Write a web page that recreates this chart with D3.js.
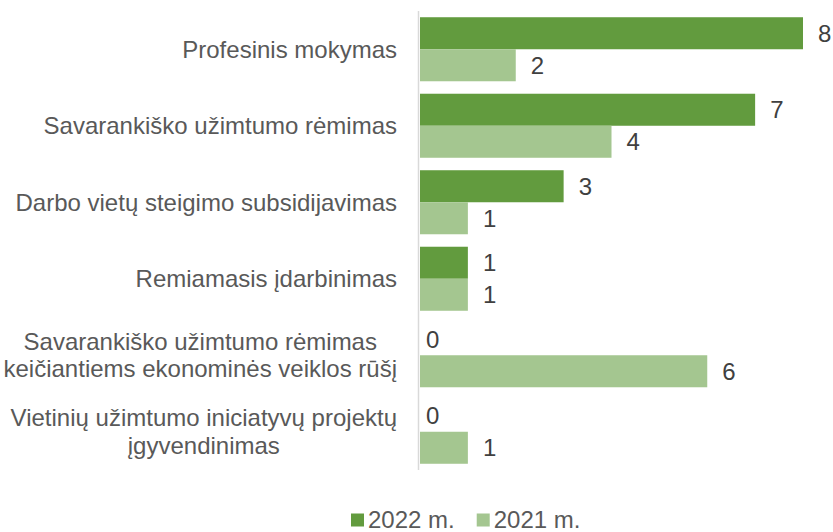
<!DOCTYPE html>
<html>
<head>
<meta charset="utf-8">
<script src="https://cdn.jsdelivr.net/npm/d3@7"></script>
<style>
  html, body { margin: 0; padding: 0; background: #fff; }
  svg { display: block; font-family: "Liberation Sans", Arial, sans-serif; }
</style>
</head>
<body>
<div id="chart"></div>
<script>
// category labels (already broken into lines as in the picture)
const categories = [
  ["Profesinis mokymas"],
  ["Savarankiško užimtumo rėmimas"],
  ["Darbo vietų steigimo subsidijavimas"],
  ["Remiamasis įdarbinimas"],
  ["Savarankiško užimtumo rėmimas", "keičiantiems ekonominės veiklos rūšį"],
  ["Vietinių užimtumo iniciatyvų projektų", "įgyvendinimas"],
];
const values2022 = [8, 7, 3, 1, 0, 0];
const values2021 = [2, 4, 1, 1, 6, 1];
const seriesNames = ["2022 m.", "2021 m."];
const colors = ["#629b3e", "#a4c690"];

const width = 833, height = 532;
const fontSize = 24;

const svg = d3
  .select("#chart")
  .append("svg")
  .attr("width", width)
  .attr("height", height);

const x = d3.scaleLinear().domain([0, 8]).range([420, 803]);

const y = d3
  .scaleBand()
  .domain(d3.range(categories.length))
  .range([11, 470])
  .paddingInner(0.163)
  .paddingOuter(0.0815);

const sub = d3
  .scaleBand()
  .domain([0, 1])
  .range([0, y.bandwidth()]);

const series = [values2022, values2021];

// bars
series.forEach((vals, s) => {
  svg
    .append("g")
    .selectAll("rect")
    .data(vals)
    .join("rect")
    .attr("x", x(0))
    .attr("y", (d, i) => y(i) + sub(s))
    .attr("width", (d) => x(d) - x(0))
    .attr("height", sub.bandwidth())
    .attr("fill", colors[s]);

  // value labels
  svg
    .append("g")
    .selectAll("text")
    .data(vals)
    .join("text")
    .attr("x", (d) => (d > 0 ? x(d) + 15 : x(0) + 6))
    .attr("y", (d, i) => y(i) + sub(s) + sub.bandwidth() / 2)
    .attr("dy", "0.35em")
    .attr("font-size", fontSize)
    .attr("fill", "#404040")
    .text((d) => d);
});

// vertical axis line
svg
  .append("line")
  .attr("x1", x(0) - 1.5)
  .attr("x2", x(0) - 1.5)
  .attr("y1", y.range()[0])
  .attr("y2", y.range()[1])
  .attr("stroke", "#d9d9d9")
  .attr("stroke-width", 1.5);

// category labels, right-aligned block, lines centred inside it
const labelRight = 397;
const lineHeight = 27.5;
categories.forEach((lines, i) => {
  const g = svg.append("g");
  const cy = y(i) + y.bandwidth() / 2;
  const texts = lines.map((ln, j) =>
    g
      .append("text")
      .attr("y", cy + (j - (lines.length - 1) / 2) * lineHeight)
      .attr("dy", "0.35em")
      .attr("font-size", fontSize)
      .attr("fill", "#595959")
      .attr("text-anchor", "middle")
      .text(ln)
  );
  const blockW = d3.max(texts, (t) => t.node().getComputedTextLength());
  texts.forEach((t) => t.attr("x", labelRight - blockW / 2));
});

// legend
const legend = svg.append("g");
let lx = 351;
const ly = 520;
seriesNames.forEach((name, s) => {
  legend
    .append("rect")
    .attr("x", lx)
    .attr("y", ly - 6.5)
    .attr("width", 13)
    .attr("height", 13)
    .attr("fill", colors[s]);
  const t = legend
    .append("text")
    .attr("x", lx + 17)
    .attr("y", ly)
    .attr("dy", "0.35em")
    .attr("font-size", fontSize)
    .attr("fill", "#595959")
    .text(name);
  lx += 17 + t.node().getComputedTextLength() + 22;
});
</script>
</body>
</html>
